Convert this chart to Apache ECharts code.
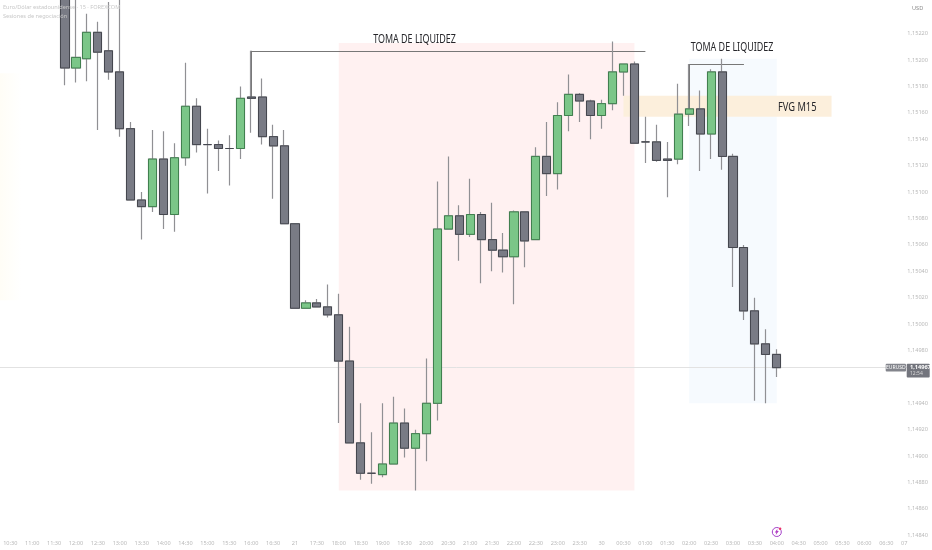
<!DOCTYPE html>
<html>
<head>
<meta charset="utf-8">
<style>html,body{margin:0;padding:0;background:#fff}#c{width:932px;height:550px}</style>
<script src="https://cdn.jsdelivr.net/npm/echarts@6/dist/echarts.min.js"></script>
</head>
<body>
<div id="c"></div>
<script>
// 15-minute slots of the category axis
const slots = ['10:15','10:30','10:45','11:00','11:15','11:30','11:45','12:00','12:15','12:30','12:45','13:00','13:15','13:30','13:45','14:00','14:15','14:30','14:45','15:00','15:15','15:30','15:45','16:00','16:15','16:30','16:45','17:00','17:15','17:30','17:45','18:00','18:15','18:30','18:45','19:00','19:15','19:30','19:45','20:00','20:15','20:30','20:45','21:00','21:15','21:30','21:45','22:00','22:15','22:30','22:45','23:00','23:15','23:30','23:45','00:00','00:15','00:30','00:45','01:00','01:15','01:30','01:45','02:00','02:15','02:30','02:45','03:00','03:15','03:30','03:45','04:00','04:15','04:30','04:45','05:00','05:15','05:30','05:45','06:00','06:15','06:30','06:45','07:00'];
// axis tick labels, one per half hour
const timeTicks = ['','10:30','','11:00','','11:30','','12:00','','12:30','','13:00','','13:30','','14:00','','14:30','','15:00','','15:30','','16:00','','16:30','','21','','17:30','','18:00','','18:30','','19:00','','19:30','','20:00','','20:30','','21:00','','21:30','','22:00','','22:30','','23:00','','23:30','','30','','00:30','','01:00','','01:30','','02:00','','02:30','','03:00','','03:30','','04:00','','04:30','','05:00','','05:30','','06:00','','06:30','','07'];
const priceTicks = [1.1484,1.1486,1.1488,1.149,1.1492,1.1494,1.1498,1.15,1.1502,1.1504,1.1506,1.1508,1.151,1.1512,1.1514,1.1516,1.1518,1.152,1.1522];
const firstCandle = '11:45';
const opens  = [1.15253,1.15194,1.15201,1.15221,1.15207,1.15191,1.15148,1.15094,1.15089,1.15125,1.15083,1.15126,1.15165,1.15136,1.15136,1.15133,1.15133,1.15172,1.15172,1.15142,1.15135,1.15076,1.15012,1.15016,1.15013,1.15007,1.14972,1.14910,1.14887,1.14886,1.14894,1.14925,1.14906,1.14917,1.14940,1.15072,1.15082,1.15068,1.15083,1.15064,1.15056,1.15051,1.15085,1.15064,1.15127,1.15114,1.15158,1.15174,1.15169,1.15158,1.15167,1.15191,1.15197,1.15138,1.15138,1.15125,1.15125,1.15159,1.15163,1.15144,1.15191,1.15127,1.15058,1.15010,1.14985,1.14977];
const closes = [1.15194,1.15202,1.15221,1.15206,1.15191,1.15148,1.15094,1.15089,1.15125,1.15083,1.15126,1.15165,1.15136,1.15136,1.15133,1.15133,1.15171,1.15171,1.15142,1.15135,1.15076,1.15012,1.15016,1.15013,1.15007,1.14972,1.14910,1.14887,1.14887,1.14894,1.14925,1.14906,1.14917,1.14940,1.15072,1.15082,1.15068,1.15083,1.15064,1.15056,1.15051,1.15085,1.15063,1.15127,1.15114,1.15158,1.15174,1.15169,1.15158,1.15167,1.15191,1.15197,1.15137,1.15138,1.15124,1.15124,1.15159,1.15163,1.15144,1.15191,1.15127,1.15058,1.15010,1.14985,1.14977,1.14967];
const lows   = [1.15181,1.15183,1.15184,1.15147,1.15185,1.15142,1.15094,1.15064,1.15085,1.15072,1.15070,1.15120,1.15130,1.15099,1.15116,1.15105,1.15125,1.15145,1.15136,1.15095,1.15076,1.15012,1.15012,1.15013,1.15005,1.14925,1.14910,1.14882,1.14879,1.14884,1.14894,1.14899,1.14874,1.14896,1.14927,1.15072,1.15048,1.15066,1.15031,1.15040,1.15039,1.15015,1.15043,1.15064,1.15097,1.15102,1.15146,1.15153,1.15140,1.15148,1.15162,1.15173,1.15137,1.15122,1.15123,1.15096,1.15121,1.15150,1.15116,1.15125,1.15117,1.15028,1.15003,1.14942,1.14940,1.14960];
const highs  = [1.15257,1.15257,1.15235,1.15229,1.15244,1.15257,1.15153,1.15100,1.15147,1.15146,1.15137,1.15198,1.15171,1.15148,1.15139,1.15143,1.15180,1.15207,1.15186,1.15151,1.15147,1.15076,1.15018,1.15019,1.15030,1.15023,1.14998,1.14940,1.14918,1.14940,1.14945,1.14936,1.14920,1.14974,1.15108,1.15127,1.15090,1.15110,1.15085,1.15092,1.15069,1.15086,1.15085,1.15134,1.15153,1.15168,1.15189,1.15175,1.15170,1.15170,1.15214,1.15197,1.15199,1.15157,1.15151,1.15138,1.15182,1.15197,1.15177,1.15193,1.15201,1.15129,1.15060,1.15020,1.14996,1.14981];
const lastPrice = 1.14967;
const liquidityLevels = [1.15207, 1.15197];
const wickBases = [1.15172, 1.15163];
const sweepLabel = 'TOMA DE LIQUIDEZ';
const fvgLabel = 'FVG M15';
const fvgRange = [1.15157, 1.15173];
const redRange = [1.14874, 1.15213];
const blueRange = [1.14940, 1.15201];

const C = {green:'#7bc688', greenB:'#41804f', grey:'#797b85', greyB:'#45474f', wick:'#909094',
  tick:'#b9b9b9', title:'#c8c8c8', note:'#777777', text:'#26262a'};

const start = slots.indexOf(firstCandle);
const blank = ['-','-','-','-'];
const wickData = slots.map((_, i) => {
  const k = i - start;
  return k >= 0 && k < opens.length ? [opens[k], closes[k], lows[k], highs[k]] : blank;
});
const bodyData = slots.map((_, i) => {
  const k = i - start;
  return k >= 0 && k < opens.length
    ? [opens[k], closes[k], Math.min(opens[k], closes[k]), Math.max(opens[k], closes[k])] : blank;
});
const fmt = v => v.toFixed(5).replace('.', ',');
const tickSet = new Set(priceTicks.map(fmt));

const chart = echarts.init(document.getElementById('c'), null, {renderer:'canvas'});
const noteLine = {color:C.note, width:1, type:'solid'};

chart.setOption({
  animation:false,
  backgroundColor:'#ffffff',
  title:[
    {text:'Euro/Dólar estadounidense · 15 · FOREXCOM', subtext:'Sesiones de negociación', left:3, top:4, z:4, padding:0, itemGap:3,
     textStyle:{fontSize:5.6, fontWeight:'normal', color:C.title, fontFamily:'"Noto Sans",sans-serif'},
     subtextStyle:{fontSize:5.6, color:C.title, fontFamily:'"Noto Sans",sans-serif'}},
    {text:'USD', left:912, top:5, padding:0, z:0,
     textStyle:{fontSize:5.6, fontWeight:'normal', color:'#8a8a8a', fontFamily:'"Noto Sans",sans-serif'}}
  ],
  grid:{left:-6.125, top:0, width:919.8, height:535.3, containLabel:false, outerBoundsMode:'none'},
  xAxis:{type:'category', data:slots, boundaryGap:true,
    axisLine:{show:false}, axisTick:{show:false}, splitLine:{show:false},
    axisLabel:{interval:0, margin:5, fontSize:5.6, color:C.tick, fontFamily:'"Noto Sans",sans-serif',
      formatter:(v,i)=> timeTicks[i]==='07' ? '{e|07}' : timeTicks[i],
      rich:{e:{fontSize:5.6, color:C.tick, padding:[0,8,0,0]}}}},
  yAxis:{type:'value', position:'right', scale:true, min:1.1484, max:1.152455, interval:0.0002,
    axisLine:{show:false}, axisTick:{show:false}, splitLine:{show:false},
    axisLabel:{margin:14.3, align:'right', fontSize:5.6, color:C.tick, fontFamily:'"Noto Sans",sans-serif',
      showMaxLabel:false,
      formatter:v => tickSet.has(fmt(v)) ? fmt(v) : ''}},
  series:[
    {type:'candlestick', name:'wicks', data:wickData, barWidth:8.6, z:2, clip:true,
     itemStyle:{color:C.wick, color0:C.wick, borderColor:C.wick, borderColor0:C.wick, borderColorDoji:C.wick, borderWidth:1.2},
     markArea:{silent:true, z:1, label:{show:false}, data:[
       [{xAxis:'10:15', yAxis:1.1519, itemStyle:{color:{type:'linear',x:0,y:0,x2:1,y2:0,colorStops:[{offset:0,color:'#fffdf6'},{offset:1,color:'#ffffff'}]}}},{xAxis:'10:45', yAxis:1.15018}],
       [{xAxis:'18:00', yAxis:redRange[1], itemStyle:{color:'#fff1f1'}},{xAxis:'00:45', yAxis:redRange[0]}],
       [{xAxis:'02:00', yAxis:blueRange[1], itemStyle:{color:'#f6fafe'}},{xAxis:'04:00', yAxis:blueRange[0]}],
       [{xAxis:'00:30', yAxis:fvgRange[1], itemStyle:{color:'#fcefdc'}},{xAxis:'05:15', yAxis:fvgRange[0]}]
     ]},
     markLine:{silent:true, symbol:'none', label:{show:false}, z:1, precision:5, data:[
       {yAxis:lastPrice, lineStyle:{color:'#e2e2e2', width:1, type:'solid'}},
       [{coord:['16:00',liquidityLevels[0]], lineStyle:noteLine},{coord:['01:00',liquidityLevels[0]]}],
       [{coord:['16:00',liquidityLevels[0]], lineStyle:noteLine},{coord:['16:00',wickBases[0]]}],
       [{coord:['02:00',liquidityLevels[1]], lineStyle:noteLine},{coord:['03:15',liquidityLevels[1]]}],
       [{coord:['02:00',liquidityLevels[1]], lineStyle:noteLine},{coord:['02:00',wickBases[1]]}]
     ]},
     markPoint:{silent:true, z:6, data:[
       {coord:['04:00',1.148425], symbol:'circle', symbolSize:9, itemStyle:{color:'#ffffff', borderColor:'#a43fc9', borderWidth:1}, label:{show:false}},
       {coord:['04:00',1.148425], symbol:'path://M6 0 L1 7 H4 L3 12 L9 4 H6 Z', symbolSize:[4,6], itemStyle:{color:'#b13cc4'}, label:{show:false}},
       {coord:['04:00',1.148425], symbol:'circle', symbolSize:2.5, symbolOffset:[3.3,-3.3], itemStyle:{color:'#e8336d'}, label:{show:false}}
     ]}
    },
    {type:'candlestick', name:'bodies', data:bodyData, barWidth:8.6, z:3, clip:true,
     itemStyle:{color:C.green, color0:C.grey, borderColor:C.greenB, borderColor0:C.greyB, borderColorDoji:C.greyB, borderWidth:1}}
  ]
});

const yP = chart.convertToPixel({yAxisIndex:0}, lastPrice);
// Narrowed text annotations, placed from the chart's own scales
const note = (text, time, price, dx, sx) => {
  const p = chart.convertToPixel({gridIndex:0}, [time, price]);
  return {type:'text', z:12, x:p[0]+dx, y:p[1], scaleX:sx,
    style:{text, x:0, y:0, fill:C.text, fontSize:12, align:'center', verticalAlign:'middle', fontFamily:'"Noto Sans",sans-serif'}};
};
chart.setOption({graphic:[
  note(sweepLabel,'19:45',1.152155,-1,0.745),
  note(sweepLabel,'03:00',1.152095,-1,0.745),
  note(fvgLabel,'04:30',1.15164,-1.5,0.775),
  {type:'rect', z:10, shape:{x:885.7, y:yP-3.8, width:20.3, height:7.6, r:1}, style:{fill:'#83858c'}},
  {type:'text', z:11, style:{x:895.8, y:yP, text:'EURUSD', fill:'#fff', fontSize:5, align:'center', verticalAlign:'middle', fontFamily:'"Noto Sans",sans-serif'}},
  {type:'rect', z:10, shape:{x:906.7, y:yP-3.8, width:23, height:13.6, r:1}, style:{fill:'#73757d'}},
  {type:'text', z:11, style:{x:910, y:yP-0.4, text:fmt(lastPrice), fill:'#fff', fontSize:5.6, fontWeight:'bold', align:'left', verticalAlign:'middle', fontFamily:'"Noto Sans",sans-serif'}},
  {type:'text', z:11, style:{x:910, y:yP+6, text:'12:54', fill:'#d8d8d8', fontSize:5, align:'left', verticalAlign:'middle', fontFamily:'"Noto Sans",sans-serif'}}
]});
</script>
</body>
</html>
